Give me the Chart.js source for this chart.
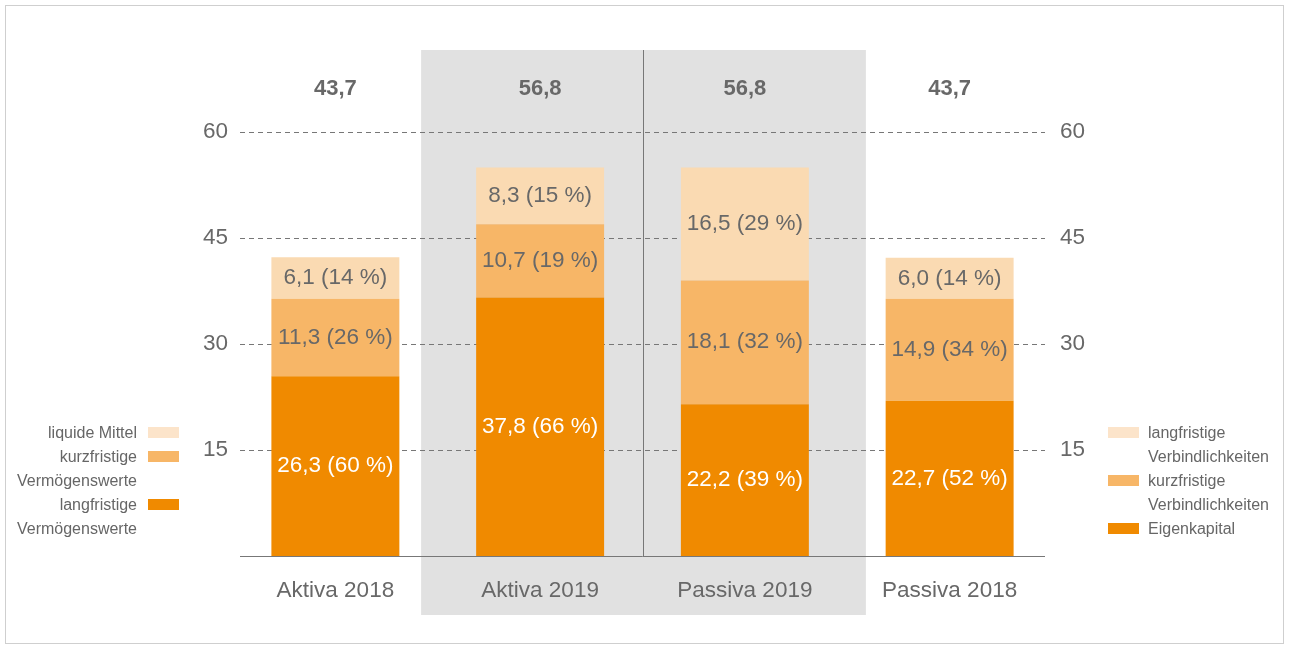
<!DOCTYPE html>
<html>
<head>
<meta charset="utf-8">
<script src="https://cdn.jsdelivr.net/npm/chart.js@4.4.1/dist/chart.umd.min.js"></script>
<style>
  body { margin: 0; background: #fff; font-family: "Liberation Sans", Arial, sans-serif; }
  #wrap { position: relative; width: 1290px; height: 649px; }
  #frame { position: absolute; left: 5px; top: 5px; width: 1279px; height: 639px; border: 1px solid #cfcfcf; box-sizing: border-box; }
  canvas { position: absolute; left: 0; top: 0; }
  .leg { position: absolute; font-size: 16px; color: #666; line-height: 24px; }
  .leg .row { position: relative; height: 24px; white-space: nowrap; }
  .sw { position: absolute; width: 31px; height: 11px; top: 6px; }
  #legL { left: 0; top: 421px; width: 180px; }
  #legL .row { text-align: right; padding-right: 43px; }
  #legL .sw { right: 1px; }
  #legR { left: 1108px; top: 421px; width: 180px; }
  #legR .row { padding-left: 40px; }
  #legR .sw { left: 0; }
</style>
</head>
<body>
<div id="wrap">
  <div id="frame"></div>
  <canvas id="myChart" width="1290" height="649"></canvas>
  <div class="leg" id="legL"></div>
  <div class="leg" id="legR"></div>
</div>
<script>
var categories = ["Aktiva 2018", "Aktiva 2019", "Passiva 2019", "Passiva 2018"];
var totals = [43.7, 56.8, 56.8, 43.7];
var lowValues = [26.3, 37.8, 22.2, 22.7];
var lowShares = [60, 66, 39, 52];
var midValues = [11.3, 10.7, 18.1, 14.9];
var midShares = [26, 19, 32, 34];
var topValues = [6.1, 8.3, 16.5, 6.0];
var topShares = [14, 15, 29, 14];
var tickValues = [15, 30, 45, 60];

var colLow = '#F08A00';
var colMid = '#F7B667';
var colTop = '#FADAB2';
var grey = '#686868';
var font = '"Liberation Sans", Arial, sans-serif';

// legends
var legLeft = [
    { text: 'liquide Mittel', color: '#FCE4CA' },
    { text: 'kurzfristige', color: colMid },
    { text: 'Vermögenswerte' },
    { text: 'langfristige', color: colLow },
    { text: 'Vermögenswerte' }
];
var legRight = [
    { text: 'langfristige', color: '#FCE4CA' },
    { text: 'Verbindlichkeiten' },
    { text: 'kurzfristige', color: colMid },
    { text: 'Verbindlichkeiten' },
    { text: 'Eigenkapital', color: colLow }
];
function buildLegend(id, items) {
    var el = document.getElementById(id);
    items.forEach(function (it) {
        var row = document.createElement('div');
        row.className = 'row';
        row.textContent = it.text;
        if (it.color) {
            var sw = document.createElement('span');
            sw.className = 'sw';
            sw.style.background = it.color;
            row.appendChild(sw);
        }
        el.appendChild(row);
    });
}
buildLegend('legL', legLeft);
buildLegend('legR', legRight);

function fmt(v) {
    return v.toFixed(1).replace('.', ',');
}

var backdrop = {
    id: 'backdrop',
    beforeDraw: function (chart) {
        var c = chart.ctx, x = chart.scales.x, y = chart.scales.y;
        var a = chart.chartArea;
        var l = x.getPixelForValue(1) - 119;
        var r = x.getPixelForValue(2) + 121;
        c.save();
        c.fillStyle = '#E1E1E1';
        c.fillRect(l, 50, r - l, 565);
        // dashed grid
        c.strokeStyle = '#777';
        c.lineWidth = 1;
        c.setLineDash([5, 4]);
        tickValues.forEach(function (t) {
            var py = Math.round(y.getPixelForValue(t)) + 0.5;
            c.beginPath();
            c.moveTo(a.left + 7, py);
            c.lineTo(a.right - 7, py);
            c.stroke();
        });
        c.setLineDash([]);
        // baseline
        var by = Math.round(y.getPixelForValue(0)) + 0.5;
        c.beginPath();
        c.moveTo(a.left + 7, by);
        c.lineTo(a.right - 7, by);
        c.stroke();
        // divider
        var mx = Math.round((x.getPixelForValue(1) + x.getPixelForValue(2)) / 2) + 0.5;
        c.beginPath();
        c.moveTo(mx, 50);
        c.lineTo(mx, by);
        c.stroke();
        c.restore();
    },
    afterDatasetsDraw: function (chart) {
        var c = chart.ctx, x = chart.scales.x;
        c.save();
        c.textAlign = 'center';
        c.textBaseline = 'middle';
        c.font = 'bold 22px ' + font;
        c.fillStyle = grey;
        totals.forEach(function (t, i) {
            c.fillText(fmt(t), x.getPixelForValue(i), chart.chartArea.top - 43);
        });
        c.font = '22.5px ' + font;
        chart.data.datasets.forEach(function (ds, di) {
            chart.getDatasetMeta(di).data.forEach(function (bar, i) {
                var p = bar.getProps(['x', 'y', 'base'], true);
                c.fillStyle = di === 0 ? '#ffffff' : grey;
                c.fillText(fmt(ds.data[i]) + ' (' + ds.shares[i] + ' %)', p.x, (p.y + p.base) / 2);
            });
        });
        c.restore();
    }
};

var ctx = document.getElementById('myChart');
var myChart = new Chart(ctx, {
    type: 'bar',
    data: {
        labels: categories,
        datasets: [
            { label: 'langfristig / Eigenkapital', data: lowValues, shares: lowShares, backgroundColor: colLow, yAxisID: 'yb' },
            { label: 'kurzfristig', data: midValues, shares: midShares, backgroundColor: colMid, yAxisID: 'yb' },
            { label: 'liquide / langfristig', data: topValues, shares: topShares, backgroundColor: colTop, yAxisID: 'yb' }
        ]
    },
    options: {
        responsive: false,
        animation: false,
        categoryPercentage: 1,
        barPercentage: 0.625,
        layout: { padding: { top: 132, left: 0, right: 0, bottom: 0 } },
        plugins: { legend: { display: false }, tooltip: { enabled: false } },
        scales: {
            x: {
                stacked: true,
                grid: { display: false, drawTicks: false },
                border: { display: false },
                ticks: { color: grey, font: { size: 22.5, family: font }, padding: 21 },
                afterFit: function (s) { s.height = 93; }
            },
            yb: {
                stacked: true,
                display: false,
                min: 0,
                max: 62
            },
            y: {
                position: 'left',
                min: 0,
                max: 60,
                grid: { display: false, drawTicks: false },
                border: { display: false },
                ticks: {
                    stepSize: 15, color: grey, padding: 5,
                    font: { size: 22.5, family: font },
                    callback: function (v) { return v === 0 ? '' : v; }
                },
                afterFit: function (s) { s.width = 233; }
            },
            y2: {
                position: 'right',
                min: 0,
                max: 60,
                grid: { display: false, drawTicks: false },
                border: { display: false },
                ticks: {
                    stepSize: 15, color: grey, padding: 8,
                    font: { size: 22.5, family: font },
                    callback: function (v) { return v === 0 ? '' : v; }
                },
                afterFit: function (s) { s.width = 238; }
            }
        }
    },
    plugins: [backdrop]
});
</script>
</body>
</html>
